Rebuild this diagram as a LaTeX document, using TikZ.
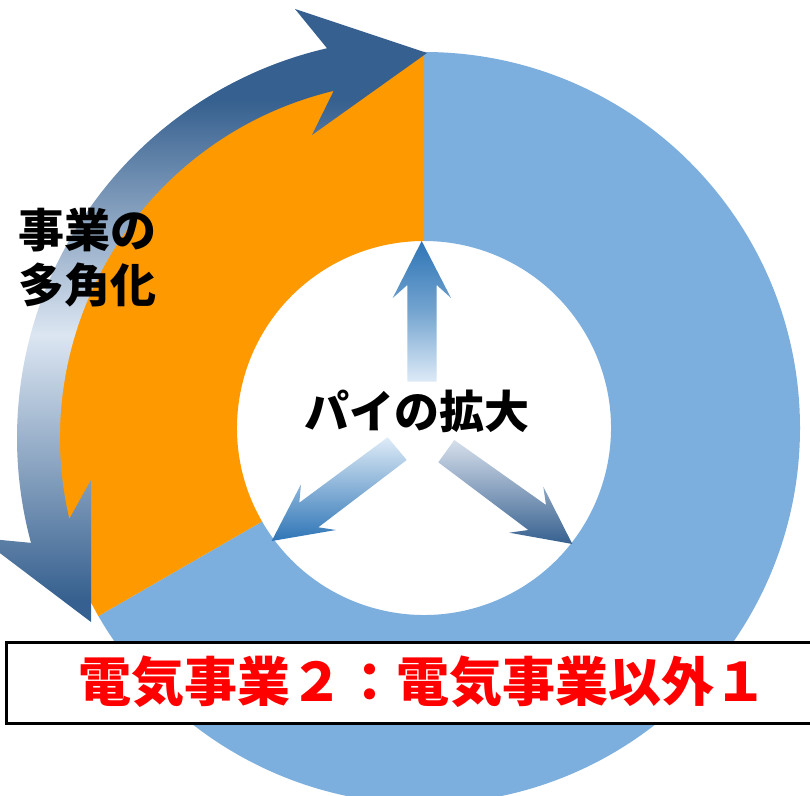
\documentclass[tikz,border=0pt]{standalone}
\usepackage{fontspec}
\newfontfamily\jp{Noto Sans CJK JP}
\usetikzlibrary{calc}
\definecolor{pieblue}{HTML}{7CAFDD}
\definecolor{pieorange}{HTML}{FF9900}
\definecolor{ardk}{HTML}{36608F}
\definecolor{arlt}{HTML}{DCE6F2}
\definecolor{updk}{HTML}{2E75B6}
\definecolor{uplt}{HTML}{DEEBF7}
\definecolor{rtlt}{HTML}{D6DFEB}
\definecolor{txtred}{HTML}{FF0000}
\pgfdeclareverticalshading{ringarrow}{100bp}{color(0bp)=(ardk); color(28.13bp)=(ardk); color(48.83bp)=(arlt); color(67.19bp)=(ardk); color(100bp)=(ardk)}
\begin{document}
\begin{tikzpicture}[x=1pt,y=1pt,
  pietext/.style={inner sep=0pt, font=\jp\bfseries\fontsize{45}{54}\selectfont},
  sidetext/.style={inner sep=0pt, align=left, font=\jp\bfseries\fontsize{46}{55}\selectfont},
  ratiotext/.style={inner sep=0pt, text=txtred, font=\jp\bfseries\fontsize{53}{60}\selectfont},
  ratiobox/.style={draw=black, line width=2.5pt, fill=white, inner sep=0pt}]
\useasboundingbox (0,0) rectangle (810,795);
\clip (0,0) rectangle (810,795);
\fill[white] (0,0) rectangle (810,795);
\coordinate (C) at (424,367);
\coordinate (A) at (417,357);
% pie (doughnut)
\fill[pieblue] ($(C)+(90:376)$) arc[start angle=90,end angle=-150,radius=376]
  -- ($(C)+(-150:187)$) arc[start angle=-150,end angle=90,radius=187] -- cycle;
\fill[pieorange] ($(C)+(90:376)$) arc[start angle=90,end angle=210,radius=376]
  -- ($(C)+(210:187)$) arc[start angle=210,end angle=90,radius=187] -- cycle;
% circular double arrow
\coordinate (NO1) at ($(A)+(103:400)$);
\coordinate (NI1) at ($(A)+(103.5:357)$);
\coordinate (NO2) at ($(A)+(195.2:400)$);
\coordinate (NI2) at ($(A)+(193.1:357)$);
\coordinate (T1) at (427,742);
\coordinate (BO1) at (295,786);
\coordinate (BI1) at (312,660);
\coordinate (T2) at (91,173);
\coordinate (BO2) at (-20,257);
\coordinate (BI2) at (91,315);
\begin{scope}
\clip (NO1) arc[start angle=103,end angle=195.2,radius=400] -- (BO2) -- (T2) -- (BI2)
  -- (NI2) arc[start angle=193.1,end angle=103.5,radius=357] -- (BI1) -- (T1) -- (BO1) -- cycle;
\shade[shading=ringarrow] (-40,155) rectangle (460,795);
\end{scope}
% inner arrows
\shade[top color=updk, bottom color=uplt, middle color=updk!60!uplt]
  (421.7,554) -- (451,497) -- (436.7,510) -- (436.7,413.3) -- (407.3,413.3) -- (407.3,510) -- (392.7,497) -- cycle;
\shade[top color=uplt, bottom color=updk]
  (387.7,357.7) -- (299.3,292.3) -- (301,310.7) -- (271.7,254) -- (336,265) -- (318.3,267.7) -- (406.7,335) -- cycle;
\shade[top color=rtlt, bottom color=ardk]
  (454.3,355) -- (546,290) -- (543.3,308.3) -- (572.3,251) -- (509.3,262.3) -- (528.3,265) -- (438.3,332.7) -- cycle;
% texts
\node[pietext] (pie) at (417,384) {パイの拡大};
\node[sidetext, anchor=west] (diversify) at (18,537) {事業の\\多角化};
\node[ratiobox, anchor=north west, minimum width=820pt, minimum height=81pt] (box) at (5,154) {};
\node[ratiotext] (ratio) at (422.5,113) {電気事業２：電気事業以外１};
\end{tikzpicture}
\end{document}
